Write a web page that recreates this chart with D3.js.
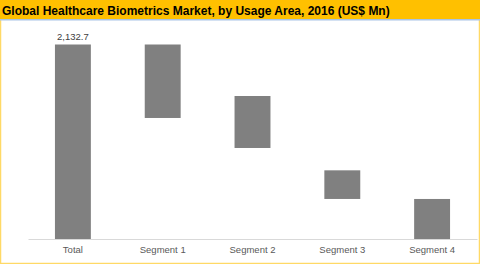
<!DOCTYPE html>
<html><head><meta charset="utf-8">
<script src="https://cdn.jsdelivr.net/npm/d3@7"></script>
<style>body{margin:0;background:#fff}svg{display:block}</style>
</head><body>
<svg id="c" width="480" height="264"></svg>
<script>
const title = "Global Healthcare Biometrics Market, by Usage Area, 2016 (US$ Mn)";
const categories = ["Total", "Segment 1", "Segment 2", "Segment 3", "Segment 4"];
const highValues = [2132.7, 2132.7, 1568, 753, 439];
const lowValues = [0, 1327, 998, 439, 0];
const dataLabels = ["2,132.7", "", "", "", ""];

const svg = d3.select("#c");
const W = 480, H = 264;
svg.append("rect").attr("x",0.5).attr("y",0.5).attr("width",W-1).attr("height",H-1)
  .attr("fill","#fff").attr("stroke","#FFD966").attr("stroke-width",1.5);
svg.append("rect").attr("x",0).attr("y",0).attr("width",W).attr("height",19).attr("fill","#FFC000");
svg.append("rect").attr("x",0).attr("y",19).attr("width",W).attr("height",1.5).attr("fill","#A9C4E6");
svg.append("text").attr("x",2).attr("y",14.5).text(title)
  .attr("font-family","Liberation Sans, Arial, sans-serif").attr("font-weight","bold")
  .attr("font-size",12).attr("fill","#000");

const x = d3.scaleBand().domain(categories).range([28, 477]).paddingInner(0.6).paddingOuter(0.3);
const y = d3.scaleLinear().domain([0, 2132.7]).range([239, 44.5]);

const g = svg.append("g");
g.selectAll("rect.bar").data(categories).join("rect").attr("class","bar")
  .attr("x", d => x(d)).attr("width", x.bandwidth())
  .attr("y", (d,i) => y(highValues[i]))
  .attr("height", (d,i) => y(lowValues[i]) - y(highValues[i]))
  .attr("fill", "#808080");

const axis = d3.axisBottom(x).tickSize(0).tickPadding(7);
const ax = svg.append("g").attr("transform","translate(0,239)").call(axis);
ax.select(".domain").attr("stroke","#D9D9D9").attr("stroke-width",1);
ax.selectAll("text").attr("font-family","Liberation Sans, Arial, sans-serif").attr("font-size",9.5).attr("fill","#595959");

g.selectAll("text.lbl").data(categories).join("text").attr("class","lbl")
  .attr("x", d => x(d) + x.bandwidth()/2)
  .attr("y", (d,i) => y(highValues[i]) - 5)
  .attr("text-anchor","middle")
  .attr("font-family","Liberation Sans, Arial, sans-serif").attr("font-size",9.5).attr("fill","#404040")
  .text((d,i) => dataLabels[i]);
</script>
</body></html>
